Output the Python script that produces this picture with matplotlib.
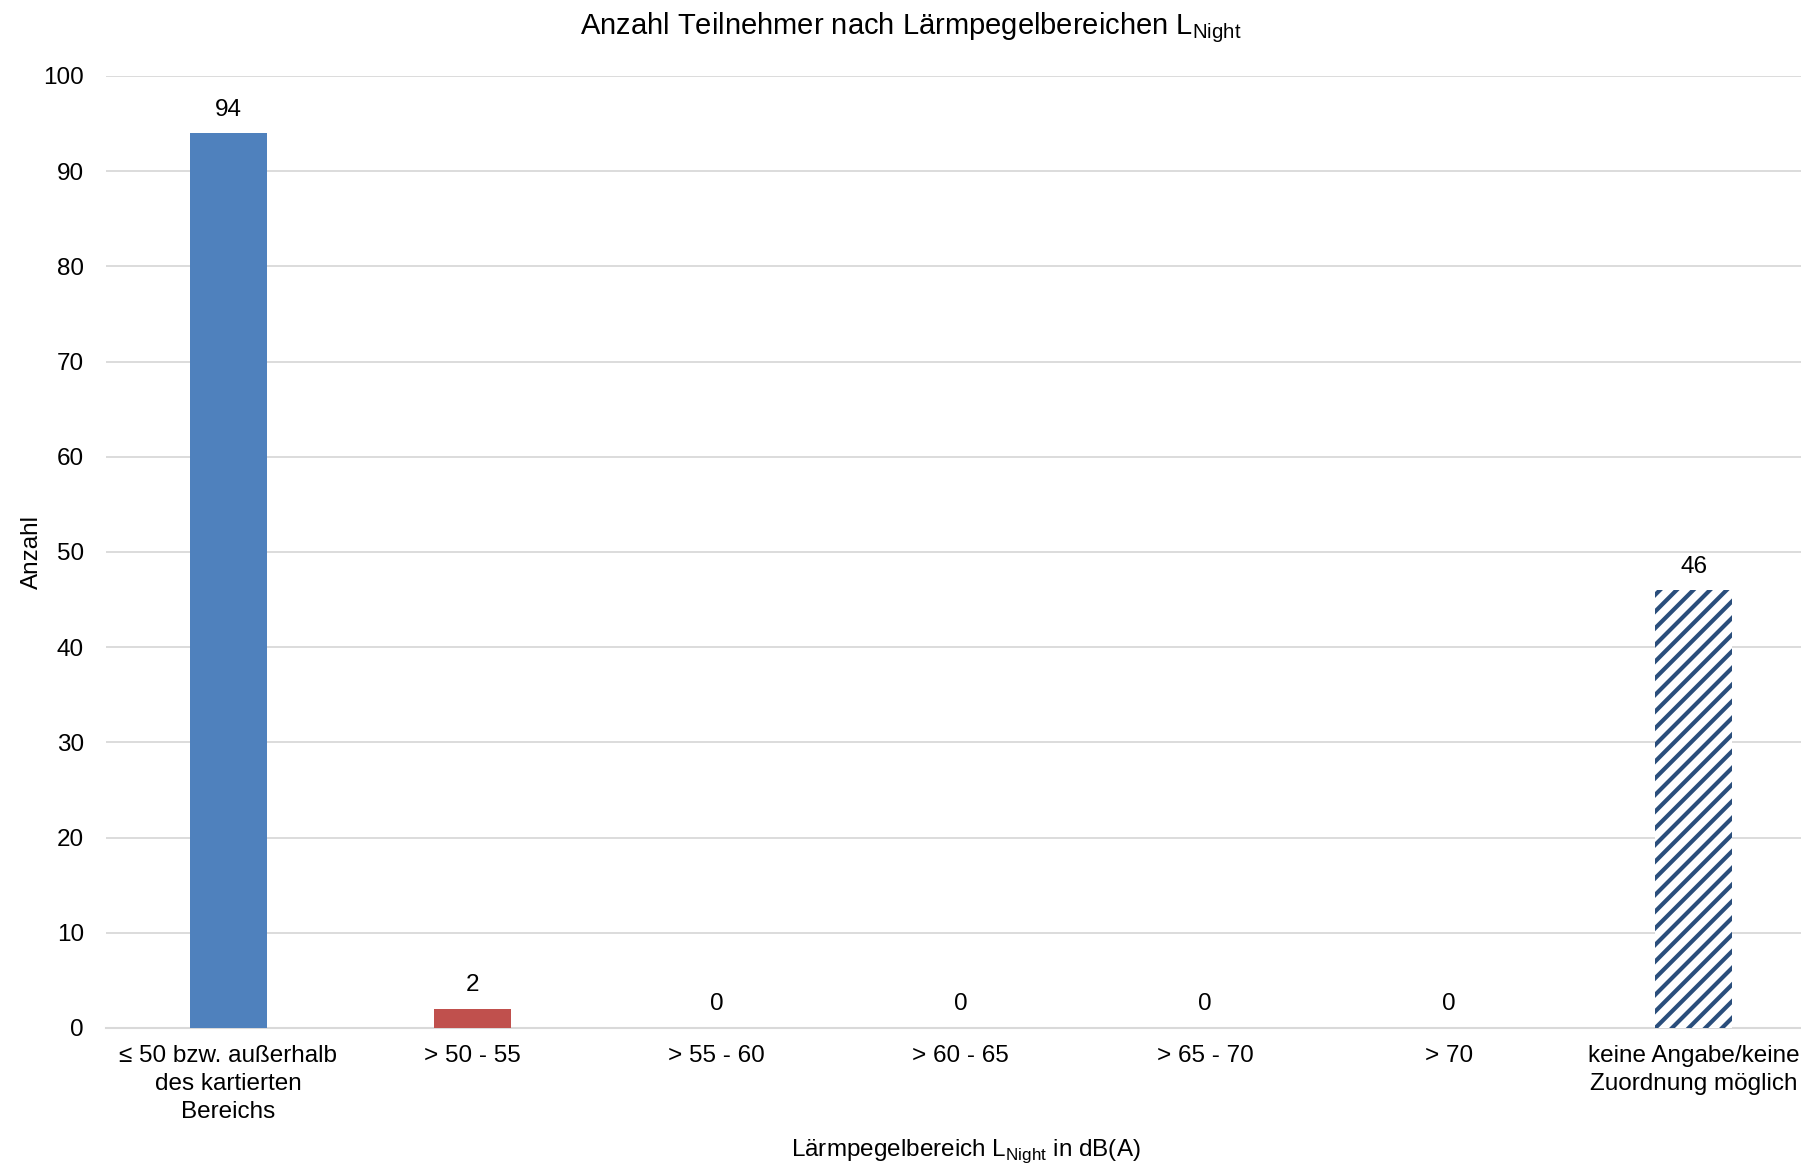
import matplotlib
matplotlib.use("Agg")
import matplotlib.pyplot as plt

# Daten
kategorien = ["≤ 50 bzw. außerhalb\ndes kartierten\nBereichs", "> 50 - 55", "> 55 - 60",
              "> 60 - 65", "> 65 - 70", "> 70", "keine Angabe/keine\nZuordnung möglich"]
anzahl = [94, 2, 0, 0, 0, 0, 46]
farben = ["#4F81BD", "#C0504D", "#4F81BD", "#4F81BD", "#4F81BD", "#4F81BD", "white"]
schraffur = [None, None, None, None, None, None, "//"]
y_ticks = [0, 10, 20, 30, 40, 50, 60, 70, 80, 90, 100]

plt.rcParams["font.family"] = ["Liberation Sans", "DejaVu Sans"]
plt.rcParams["mathtext.fontset"] = "custom"
plt.rcParams["mathtext.rm"] = "Liberation Sans"
plt.rcParams["hatch.linewidth"] = 3.0

fig = plt.figure(figsize=(18.01, 11.65), dpi=100)
ax = fig.add_axes([106 / 1801, 1 - 1028 / 1165, 1695 / 1801, (1028 - 76) / 1165])

x = list(range(len(kategorien)))
for i in x:
    if schraffur[i]:
        ax.bar(i, anzahl[i], width=0.315, color="white", edgecolor="#2A4E7C",
               hatch=schraffur[i], linewidth=0, zorder=3)
    else:
        ax.bar(i, anzahl[i], width=0.315, color=farben[i], zorder=3)
    ax.annotate(str(anzahl[i]), (i, anzahl[i]), xytext=(0, 9), textcoords="offset points",
                ha="center", va="bottom", fontsize=17.5)

ax.set_xlim(-0.5, 6.44)
ax.set_ylim(0, 100)
ax.set_yticks(y_ticks)
ax.set_xticks(x)
ax.set_xticklabels(kategorien, fontsize=17.5, linespacing=1.35)
ax.tick_params(axis="y", labelsize=17.5, length=0, pad=16)
ax.tick_params(axis="x", length=0, pad=12)
ax.grid(axis="y", color="#D9D9D9", linewidth=1.3, zorder=0)
for s in ["top", "right", "left"]:
    ax.spines[s].set_visible(False)
ax.spines["bottom"].set_color("#D9D9D9")
ax.spines["bottom"].set_linewidth(1.5)

ax.set_ylabel("Anzahl", fontsize=17.5)
ax.yaxis.set_label_coords(-0.037, 0.5)
# x-Achsentitel
fig.text(966 / 1801, 1 - 1156 / 1165, r"Lärmpegelbereich L$_{\mathregular{Night}}$ in dB(A)",
         ha="center", va="baseline", fontsize=17.5)
fig.text(911 / 1801, 1 - 28 / 1165, r"Anzahl Teilnehmer nach Lärmpegelbereichen L$_{\mathregular{Night}}$",
         ha="center", va="center", fontsize=21)

fig.savefig("out.png", dpi=100)
